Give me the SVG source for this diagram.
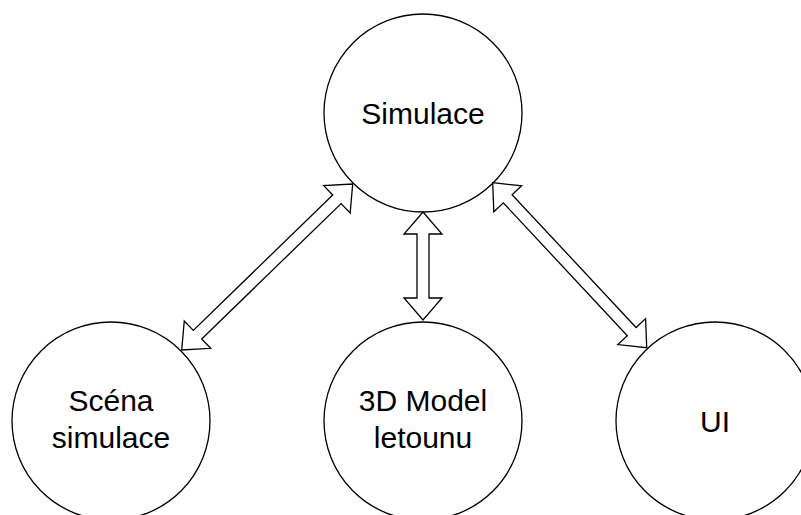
<svg xmlns="http://www.w3.org/2000/svg" width="801" height="515" viewBox="0 0 801 515">
<style>
.node{fill:#fff;stroke:#000;stroke-width:1.3}
.lbl{font-family:"Liberation Sans",Arial,Helvetica,sans-serif;font-size:30px;fill:#000;text-anchor:middle}
.arr{fill:#fff;stroke:#000;stroke-width:1.3;stroke-linejoin:miter}
</style>
<rect width="801" height="515" fill="#fff"/>
<g id="n-simulace"><circle class="node" cx="423" cy="113" r="99"/><text class="lbl" x="423" y="124">Simulace</text></g>
<g id="n-scena"><circle class="node" cx="111" cy="421" r="99"/><text class="lbl" x="111" y="411">Scéna</text><text class="lbl" x="111" y="448">simulace</text></g>
<g id="n-model"><circle class="node" cx="423" cy="421" r="99"/><text class="lbl" x="423" y="411">3D Model</text><text class="lbl" x="423" y="448">letounu</text></g>
<g id="n-ui"><circle class="node" cx="715" cy="421" r="99"/><text class="lbl" x="715" y="432">UI</text></g>
<g id="connectors">
<polygon class="arr" transform="translate(423,212) rotate(90)" points="0,0 22,-19 22,-6 86,-6 86,-19 108,0 86,19 86,6 22,6 22,19"/>
<polygon class="arr" transform="translate(352.7,184) rotate(135.85)" points="0,0 22,-19 22,-6 216.3,-6 216.3,-19 238.3,0 216.3,19 216.3,6 22,6 22,19"/>
<polygon class="arr" transform="translate(492.7,182.7) rotate(46.97)" points="0,0 22,-19 22,-6 203.7,-6 203.7,-19 225.7,0 203.7,19 203.7,6 22,6 22,19"/>
</g>
</svg>
